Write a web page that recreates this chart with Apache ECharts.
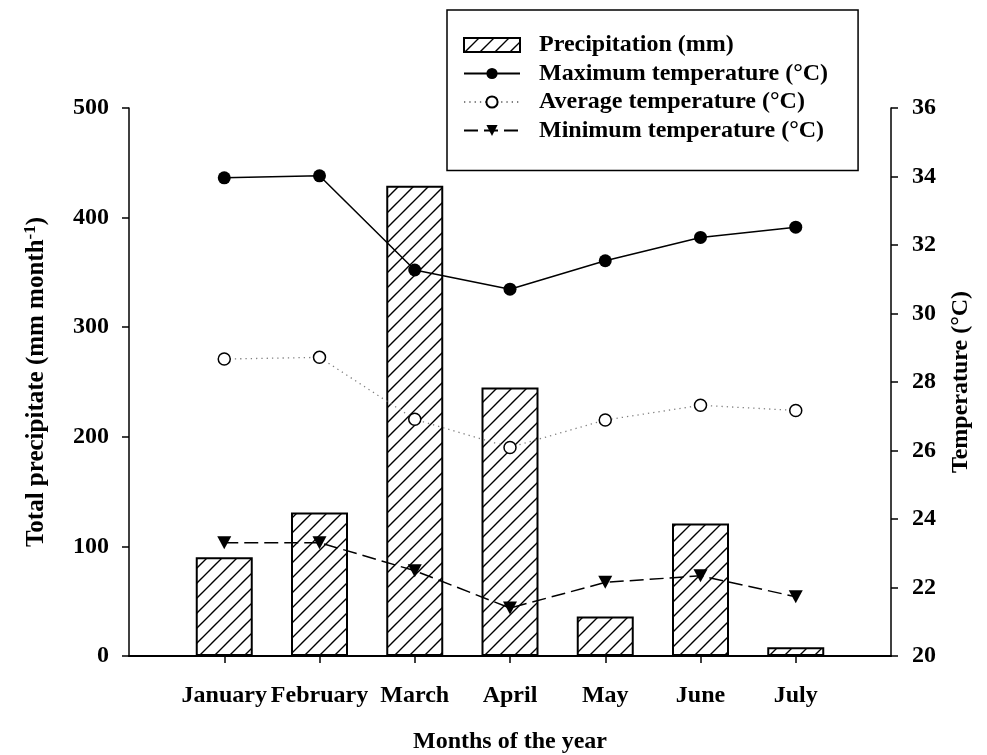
<!DOCTYPE html>
<html>
<head>
<meta charset="utf-8">
<title>Monthly precipitation and temperature</title>
<script src="https://cdn.jsdelivr.net/npm/echarts@6/dist/echarts.min.js"></script>
<style>
  html, body { margin: 0; padding: 0; background: #fff; }
  #chart { width: 987px; height: 755px; }
</style>
</head>
<body>
<div id="chart"></div>
<script>
// Month categories (placed at x = 1..7 on a 0..8 axis)
const months = ['January', 'February', 'March', 'April', 'May', 'June', 'July'];
const monthPos = [1, 2, 3, 4, 5, 6, 7];

// Total precipitation per month (mm)
const precipitation = [90, 131, 429, 245, 36, 121, 8];

// Temperatures (°C)
const tempMax = [33.96, 34.02, 31.27, 30.71, 31.54, 32.22, 32.52];
const tempAvg = [28.67, 28.72, 26.91, 26.09, 26.89, 27.32, 27.17];
const tempMin = [23.31, 23.31, 22.49, 21.40, 22.15, 22.34, 21.73];

// Axis ticks
const precipTicks = { min: 0, max: 500, interval: 100 };
const tempTicks = { min: 20, max: 36, interval: 2 };

const FONT = "'Liberation Serif', 'Times New Roman', serif";

// Diagonal hatch tile for the precipitation bars
function hatchPattern(step, lineWidth) {
  const c = document.createElement('canvas');
  c.width = step; c.height = step;
  const g = c.getContext('2d');
  g.fillStyle = '#fff';
  g.fillRect(0, 0, step, step);
  g.strokeStyle = '#000';
  g.lineWidth = lineWidth;
  g.beginPath();
  g.moveTo(0, step); g.lineTo(step, 0);
  g.moveTo(-step / 2, step / 2); g.lineTo(step / 2, -step / 2);
  g.moveTo(step / 2, step * 1.5); g.lineTo(step * 1.5, step / 2);
  g.stroke();
  return c;
}

const pair = (vals) => vals.map((v, i) => [monthPos[i], v]);

const chart = echarts.init(document.getElementById('chart'), null, { renderer: 'canvas' });

const labelStyle = { fontFamily: FONT, fontWeight: 'bold', fontSize: 24, color: '#000' };

chart.setOption({
  animation: false,
  backgroundColor: '#fff',
  grid: { left: 129, right: 96, top: 108, bottom: 99, containLabel: false, outerBoundsMode: 'none' },
  legend: {
    orient: 'vertical',
    left: 447,
    top: 10,
    padding: [23, 30, 28, 16],
    itemGap: 4.5,
    itemWidth: 56,
    itemHeight: 14,
    borderColor: '#000',
    borderWidth: 1.5,
    backgroundColor: '#fff',
    textStyle: { fontFamily: FONT, fontWeight: 'bold', fontSize: 24, color: '#000', padding: [0, 0, 0, 14] },
    data: [
      { name: 'Precipitation (mm)', icon: 'rect' },
      'Maximum temperature (°C)',
      'Average temperature (°C)',
      'Minimum temperature (°C)'
    ]
  },
  xAxis: {
    type: 'value',
    min: 0, max: 8, interval: 1,
    name: 'Months of the year',
    nameLocation: 'middle',
    nameGap: 74,
    nameTextStyle: { fontFamily: FONT, fontWeight: 'bold', fontSize: 24, color: '#000' },
    axisLine: { show: true, onZero: false, lineStyle: { color: '#000', width: 2 } },
    axisTick: { show: true, inside: false, length: 7, customValues: monthPos, lineStyle: { color: '#000', width: 1.5 } },
    axisLabel: Object.assign({
      margin: 28,
      customValues: monthPos,
      formatter: (v) => months[Math.round(v) - 1] || ''
    }, labelStyle),
    splitLine: { show: false }
  },
  yAxis: [
    {
      type: 'value',
      position: 'left',
      min: precipTicks.min, max: precipTicks.max, interval: precipTicks.interval,
      name: '{t|Total precipitate (mm month}{s|-1}{t|)}',
      nameLocation: 'middle',
      nameRotate: 90,
      nameGap: 78,
      nameTextStyle: {
        rich: {
          t: { fontFamily: FONT, fontWeight: 'bold', fontSize: 25, color: '#000' },
          s: { fontFamily: FONT, fontWeight: 'bold', fontSize: 17, color: '#000', verticalAlign: 'top', padding: [0, 0, 12, 0] }
        }
      },
      axisLine: { show: true, onZero: false, lineStyle: { color: '#000', width: 1.5 } },
      axisTick: { show: true, inside: false, length: 7, lineStyle: { color: '#000', width: 1.5 } },
      axisLabel: Object.assign({ margin: 20 }, labelStyle),
      splitLine: { show: false }
    },
    {
      type: 'value',
      position: 'right',
      min: tempTicks.min, max: tempTicks.max, interval: tempTicks.interval,
      name: 'Temperature (°C)',
      nameLocation: 'middle',
      nameRotate: 90,
      nameGap: 58,
      nameTextStyle: { fontFamily: FONT, fontWeight: 'bold', fontSize: 24, color: '#000' },
      axisLine: { show: true, onZero: false, lineStyle: { color: '#000', width: 1.5 } },
      axisTick: { show: true, inside: false, length: 7, lineStyle: { color: '#000', width: 1.5 } },
      axisLabel: Object.assign({ margin: 21 }, labelStyle),
      splitLine: { show: false }
    }
  ],
  series: [
    {
      name: 'Precipitation (mm)',
      type: 'bar',
      yAxisIndex: 0,
      barWidth: 57,
      data: pair(precipitation),
      itemStyle: {
        color: { image: hatchPattern(15, 1.4), repeat: 'repeat' },
        borderColor: '#000',
        borderWidth: 2
      },
      z: 1
    },
    {
      name: 'Maximum temperature (°C)',
      type: 'line',
      yAxisIndex: 1,
      data: pair(tempMax),
      symbol: 'circle',
      symbolSize: 13,
      itemStyle: { color: '#000', borderColor: '#000', borderWidth: 0 },
      lineStyle: { color: '#000', width: 1.5, type: 'solid' },
      z: 3
    },
    {
      name: 'Average temperature (°C)',
      type: 'line',
      yAxisIndex: 1,
      data: pair(tempAvg),
      symbol: 'circle',
      symbolSize: 12,
      showAllSymbol: true,
      itemStyle: { color: '#fff', borderColor: '#000', borderWidth: 1.5 },
      lineStyle: { color: '#808080', width: 1.3, type: [1.3, 4] },
      z: 3
    },
    {
      name: 'Minimum temperature (°C)',
      type: 'line',
      yAxisIndex: 1,
      data: pair(tempMin),
      symbol: 'triangle',
      symbolRotate: 180,
      symbolSize: [14, 13],
      itemStyle: { color: '#000', borderColor: '#000', borderWidth: 0 },
      lineStyle: { color: '#000', width: 1.5, type: [14, 6] },
      z: 3
    }
  ]
});
</script>
</body>
</html>
